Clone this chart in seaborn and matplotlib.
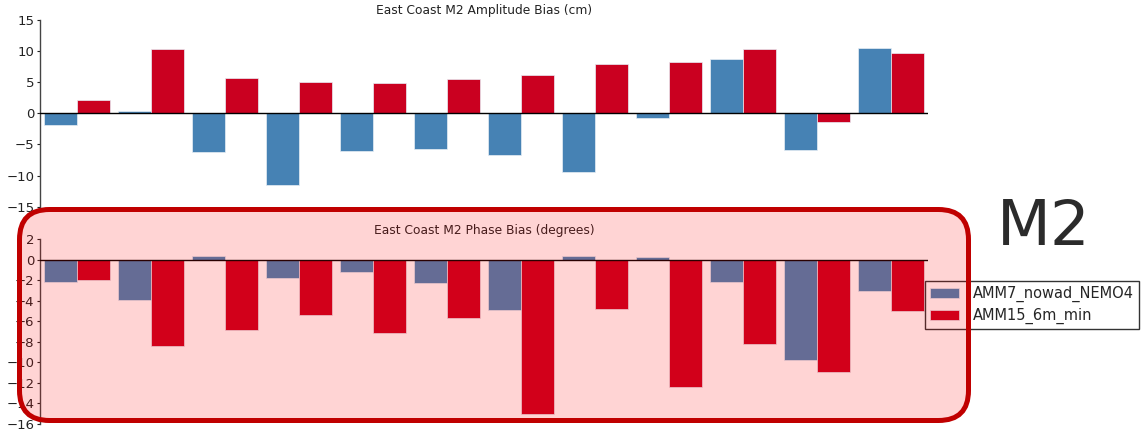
import matplotlib
matplotlib.use("Agg")
import matplotlib.pyplot as plt
from matplotlib.patches import FancyBboxPatch
import numpy as np
import pandas as pd
import seaborn as sns

# Station order along the east coast
stations = [str(i) for i in range(1, 13)]
models = ["AMM7_nowad_NEMO4", "AMM15_6m_min"]

# M2 amplitude bias (cm)
amp_amm7 = [-1.9, 0.3, -6.3, -11.6, -6.0, -5.8, -6.7, -9.5, -0.8, 8.6, -5.9, 10.4]
amp_amm15 = [2.1, 10.3, 5.6, 5.0, 4.8, 5.4, 6.1, 7.9, 8.2, 10.2, -1.5, 9.7]

# M2 phase bias (degrees)
pha_amm7 = [-2.1, -3.9, 0.4, -1.8, -1.2, -2.2, -4.9, 0.4, 0.3, -2.1, -9.8, -3.0]
pha_amm15 = [-2.0, -8.4, -6.8, -5.4, -7.1, -5.7, -15.0, -4.8, -12.4, -8.2, -10.9, -5.0]

amp_ticks = [-15, -10, -5, 0, 5, 10, 15]
pha_ticks = list(range(-16, 3, 2))

palette = {"AMM7_nowad_NEMO4": "#4682b4", "AMM15_6m_min": "#ca0020"}


def long_frame(a, b):
    return pd.DataFrame({
        "station": stations * 2,
        "model": [models[0]] * len(stations) + [models[1]] * len(stations),
        "bias": list(a) + list(b),
    })


sns.set_style("ticks")
plt.rcParams["font.family"] = ["DejaVu Sans"]

fig = plt.figure(figsize=(11.45, 4.33), dpi=100)
ax_amp = fig.add_axes([0.03493, 0.5226, 0.7755, 0.4323])
ax_pha = fig.add_axes([0.03493, 0.02079, 0.7755, 0.4261])

panels = [
    (ax_amp, long_frame(amp_amm7, amp_amm15), "East Coast M2 Amplitude Bias (cm)", (-15, 15), amp_ticks, False),
    (ax_pha, long_frame(pha_amm7, pha_amm15), "East Coast M2 Phase Bias (degrees)", (-16, 2), pha_ticks, True),
]

for ax, df, title, ylim, yticks, show_legend in panels:
    sns.barplot(data=df, x="station", y="bias", hue="model", palette=palette,
                width=0.9, dodge=True, saturation=1, errorbar=None,
                edgecolor="#e8eef5", linewidth=0.5, ax=ax, legend=show_legend)
    ax.axhline(0, color="black", lw=1.0, zorder=3)
    ax.set_xlim(-0.5, len(stations) - 0.5)
    ax.set_ylim(*ylim)
    ax.set_yticks(yticks)
    ax.set_yticklabels([f"{t}".replace("-", "\u2212") for t in yticks])
    ax.set_xticks([])
    ax.set_xlabel("")
    ax.set_ylabel("")
    ax.set_title(title, fontsize=8.8, pad=4, color="#222222")
    ax.tick_params(axis="y", labelsize=9.5, length=2.5, width=0.8, pad=1.5, colors="#222222")
    for side in ["top", "right", "bottom"]:
        ax.spines[side].set_visible(False)
    ax.spines["left"].set_color("#444444")
    ax.spines["left"].set_linewidth(1.0)
    ax.patch.set_alpha(0)

sns.move_legend(ax_pha, loc="upper left", bbox_to_anchor=(0.8079, 0.3510),
                bbox_transform=fig.transFigure, title=None, frameon=True,
                fancybox=False, fontsize=10.5, borderaxespad=0,
                handlelength=2.0, handletextpad=0.9, borderpad=0.35,
                labelspacing=0.4, edgecolor="#333333", framealpha=1)
ax_pha.get_legend().get_frame().set_linewidth(1.0)

fig.text(0.9118, 0.473, "M2", fontsize=45, ha="center", va="center", color="#2b2b2b")

# Highlight box around the phase panel
highlight = FancyBboxPatch((19.5, 12.5), 949, 211,
                           boxstyle="round,pad=0,rounding_size=30",
                           transform=None, facecolor=(1.0, 0.0, 0.0, 0.17),
                           edgecolor="#c00000", linewidth=3.6, zorder=20)
fig.add_artist(highlight)

fig.savefig("out.png", dpi=100)
